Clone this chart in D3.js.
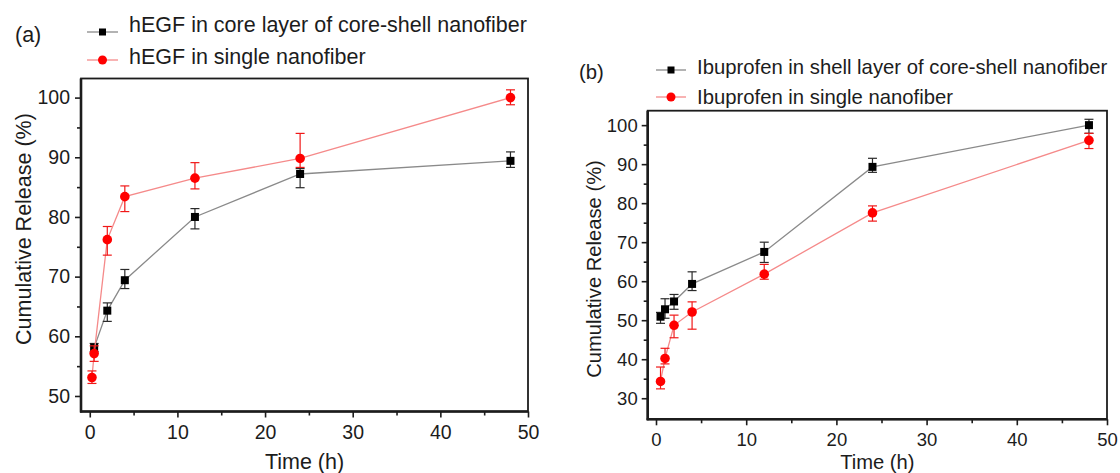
<!DOCTYPE html>
<html>
<head>
<meta charset="utf-8">
<script src="https://cdn.jsdelivr.net/npm/d3@7"></script>
<style>
  html, body { margin: 0; padding: 0; background: #fff; }
  svg { display: block; font-family: Arial, "Liberation Sans", Helvetica, sans-serif; }
</style>
</head>
<body>
<svg id="chart" width="1120" height="473"></svg>
<script>
// ---- Panel (a): hEGF release ----
const timeA_core = [0.5, 2, 4, 12, 24, 48];
const releaseA_core = [58.1, 64.3, 69.4, 80.0, 87.2, 89.4];
const errUpA_core = [0.7, 1.3, 1.8, 1.4, 0.9, 1.5];
const errDnA_core = [0.7, 1.8, 1.4, 2.0, 2.3, 1.1];

const timeA_single = [0.25, 0.5, 2, 4, 12, 24, 48];
const releaseA_single = [53.1, 57.1, 76.2, 83.4, 86.5, 89.8, 100.0];
const errUpA_single = [1.1, 1.3, 2.2, 1.8, 2.6, 4.2, 1.3];
const errDnA_single = [1.0, 1.3, 2.6, 2.5, 1.8, 1.5, 1.2];

// ---- Panel (b): Ibuprofen release ----
const timeB_shell = [0.5, 1, 2, 4, 12, 24, 48];
const releaseB_shell = [50.9, 52.8, 54.8, 59.3, 67.5, 89.3, 100.0];
const errUpB_shell = [1.1, 2.7, 1.8, 3.1, 2.5, 2.2, 1.5];
const errDnB_shell = [1.7, 2.3, 2.0, 1.7, 2.7, 1.4, 2.1];

const timeB_single = [0.5, 1, 2, 4, 12, 24, 48];
const releaseB_single = [34.3, 40.2, 48.7, 52.1, 61.8, 77.5, 96.1];
const errUpB_single = [3.7, 2.6, 2.6, 2.6, 2.5, 1.8, 1.8];
const errDnB_single = [1.9, 1.4, 3.2, 4.4, 1.3, 2.1, 2.1];

// ---- Ticks and labels ----
const xMajorTicks = [0, 10, 20, 30, 40, 50];
const xMinorTicks = [5, 15, 25, 35, 45];
const yMajorTicksA = [50, 60, 70, 80, 90, 100];
const yMinorTicksA = [55, 65, 75, 85, 95];
const yMajorTicksB = [30, 40, 50, 60, 70, 80, 90, 100];
const yMinorTicksB = [35, 45, 55, 65, 75, 85, 95];

const legendA = ["hEGF in core layer of core-shell nanofiber", "hEGF in single nanofiber"];
const legendB = ["Ibuprofen in shell layer of core-shell nanofiber", "Ibuprofen in single nanofiber"];
const xTitle = "Time (h)";
const yTitle = "Cumulative Release (%)";

// ---- Styles ----
const INK = "#1c1c1c";
const BLACK_LINE = "#8a8a8a";
const RED_LINE = "#f58a8a";
const BLACK_ERR = "#2a2a2a";
const RED_ERR = "#f01818";
const RED_MARK = "#ff0000";

const svg = d3.select("#chart");

function drawPanel(p) {
  const g = svg.append("g");
  const x = d3.scaleLinear().domain(p.xDomain).range([p.left, p.right]);
  const y = d3.scaleLinear().domain(p.yDomain).range([p.bottom, p.top]);

  // frame
  g.append("rect")
    .attr("x", p.left).attr("y", p.top)
    .attr("width", p.right - p.left).attr("height", p.bottom - p.top)
    .attr("fill", "none").attr("stroke", INK).attr("stroke-width", 1.8);
  g.append("line").attr("x1", p.left).attr("x2", p.left)
    .attr("y1", p.top).attr("y2", p.bottom + 1)
    .attr("stroke", INK).attr("stroke-width", 2.6);
  g.append("line").attr("x1", p.left - 1).attr("x2", p.right)
    .attr("y1", p.bottom).attr("y2", p.bottom)
    .attr("stroke", INK).attr("stroke-width", 2.6);

  // axes
  function styleAxis(sel, fontSize) {
    sel.select(".domain").remove();
    sel.selectAll(".tick line").attr("stroke", INK).attr("stroke-width", 1.6);
    sel.selectAll(".tick text").attr("fill", INK)
      .attr("font-size", fontSize).attr("font-family", "Arial, 'Liberation Sans', sans-serif");
  }
  const xAxis = g.append("g").attr("transform", `translate(0,${p.bottom})`)
    .call(d3.axisBottom(x).tickValues(xMajorTicks).tickSize(6).tickPadding(p.xTickPad));
  styleAxis(xAxis, p.tickFont);
  const xMinor = g.append("g").attr("transform", `translate(0,${p.bottom})`)
    .call(d3.axisBottom(x).tickValues(xMinorTicks).tickSize(4).tickFormat(""));
  styleAxis(xMinor, p.tickFont);

  const yAxis = g.append("g").attr("transform", `translate(${p.left},0)`)
    .call(d3.axisLeft(y).tickValues(p.yMajor).tickSize(6).tickPadding(p.yTickPad));
  styleAxis(yAxis, p.tickFont);
  const yMinor = g.append("g").attr("transform", `translate(${p.left},0)`)
    .call(d3.axisLeft(y).tickValues(p.yMinor).tickSize(4).tickFormat(""));
  styleAxis(yMinor, p.tickFont);

  // titles
  g.append("text").attr("x", (p.left + p.right) / 2).attr("y", p.xTitleY)
    .attr("text-anchor", "middle").attr("font-size", p.titleFont).attr("fill", INK)
    .text(xTitle);
  g.append("text")
    .attr("transform", `translate(${p.yTitleX},${p.yTitleCY}) rotate(-90)`)
    .attr("text-anchor", "middle").attr("font-size", p.titleFont).attr("fill", INK)
    .text(yTitle);

  // panel tag
  g.append("text").attr("x", p.tagX).attr("y", p.tagY)
    .attr("font-size", p.legendFont).attr("fill", INK).text(p.tag);

  // series
  function series(times, vals, up, dn, kind) {
    const pts = times.map((t, i) => ({ t, v: vals[i], up: up[i], dn: dn[i] }));
    const line = d3.line().x(d => x(d.t)).y(d => y(d.v));
    const s = g.append("g");
    s.append("path").datum(pts).attr("d", line).attr("fill", "none")
      .attr("stroke", kind === "sq" ? BLACK_LINE : RED_LINE).attr("stroke-width", 1.3);
    const ec = kind === "sq" ? BLACK_ERR : RED_ERR;
    const eb = s.selectAll("g.err").data(pts).enter().append("g");
    eb.append("line").attr("x1", d => x(d.t)).attr("x2", d => x(d.t))
      .attr("y1", d => y(d.v + d.up)).attr("y2", d => y(d.v - d.dn))
      .attr("stroke", ec).attr("stroke-width", 1.2);
    [d => d.v + d.up, d => d.v - d.dn].forEach(f => {
      eb.append("line").attr("x1", d => x(d.t) - 4.5).attr("x2", d => x(d.t) + 4.5)
        .attr("y1", d => y(f(d))).attr("y2", d => y(f(d)))
        .attr("stroke", ec).attr("stroke-width", 1.2);
    });
    if (kind === "sq") {
      s.selectAll("rect.m").data(pts).enter().append("rect")
        .attr("x", d => x(d.t) - 4).attr("y", d => y(d.v) - 4)
        .attr("width", 8).attr("height", 8).attr("fill", "#000");
    } else {
      s.selectAll("circle.m").data(pts).enter().append("circle")
        .attr("cx", d => x(d.t)).attr("cy", d => y(d.v)).attr("r", 4.8)
        .attr("fill", RED_MARK);
    }
  }
  series(p.s1.t, p.s1.v, p.s1.up, p.s1.dn, "sq");
  series(p.s2.t, p.s2.v, p.s2.up, p.s2.dn, "ci");

  // legend
  const lg = g.append("g");
  p.legend.forEach((label, i) => {
    const my = p.legMarkY[i];
    lg.append("line").attr("x1", p.legX0).attr("x2", p.legX1)
      .attr("y1", my).attr("y2", my)
      .attr("stroke", i === 0 ? BLACK_LINE : RED_LINE).attr("stroke-width", 1.3);
    const cx = (p.legX0 + p.legX1) / 2;
    if (i === 0) {
      lg.append("rect").attr("x", cx - 3.5).attr("y", my - 3.5)
        .attr("width", 7).attr("height", 7).attr("fill", "#000");
    } else {
      lg.append("circle").attr("cx", cx).attr("cy", my).attr("r", 4.5).attr("fill", RED_MARK);
    }
    lg.append("text").attr("x", p.legTextX).attr("y", p.legBase[i])
      .attr("font-size", p.legendFont).attr("fill", INK).text(label);
  });
}

drawPanel({
  left: 81, right: 528, top: 78.5, bottom: 411.5,
  xDomain: [-1, 50], yDomain: [47.4, 103.2],
  yMajor: yMajorTicksA, yMinor: yMinorTicksA,
  tickFont: 19.5, titleFont: 21.5, legendFont: 21.5,
  xTickPad: 8, yTickPad: 5,
  xTitleY: 469, yTitleX: 31, yTitleCY: 229,
  tag: "(a)", tagX: 15, tagY: 42,
  legend: legendA, legX0: 87, legX1: 118, legMarkY: [32, 60],
  legTextX: 129, legBase: [32, 64],
  s1: { t: timeA_core, v: releaseA_core, up: errUpA_core, dn: errDnA_core },
  s2: { t: timeA_single, v: releaseA_single, up: errUpA_single, dn: errDnA_single }
});

drawPanel({
  left: 647.7, right: 1107, top: 110.7, bottom: 419.3,
  xDomain: [-0.92, 50], yDomain: [24.6, 103.7],
  yMajor: yMajorTicksB, yMinor: yMinorTicksB,
  tickFont: 18.5, titleFont: 20.2, legendFont: 20.3,
  xTickPad: 8, yTickPad: 4,
  xTitleY: 469, yTitleX: 601, yTitleCY: 269,
  tag: "(b)", tagX: 579, tagY: 79,
  legend: legendB, legX0: 656, legX1: 686, legMarkY: [70, 97],
  legTextX: 697, legBase: [74, 104],
  s1: { t: timeB_shell, v: releaseB_shell, up: errUpB_shell, dn: errDnB_shell },
  s2: { t: timeB_single, v: releaseB_single, up: errUpB_single, dn: errDnB_single }
});
</script>
</body>
</html>
